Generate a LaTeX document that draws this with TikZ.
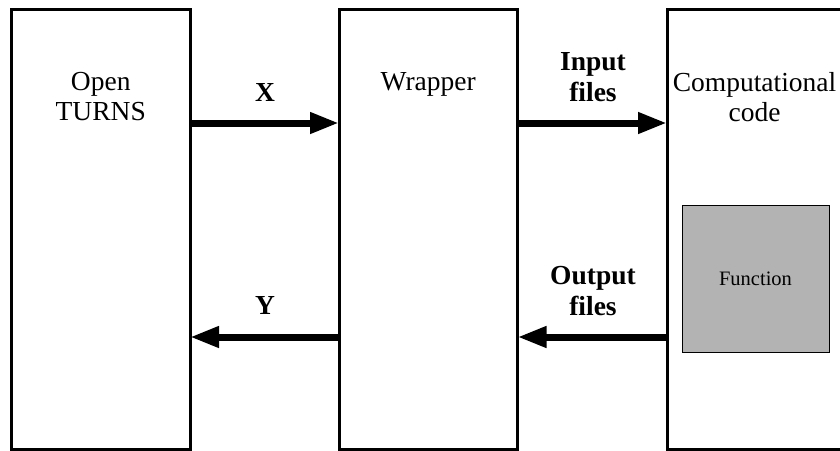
\documentclass[tikz,border=0pt]{standalone}
\usepackage{fontspec}
\setmainfont{Liberation Serif}
\usetikzlibrary{arrows.meta}
\definecolor{fgray}{HTML}{B3B3B3}
\begin{document}
\begin{tikzpicture}[x=1pt,y=-1pt,
  box/.style={draw, line width=3pt, minimum width=178.5pt, minimum height=439.5pt, inner sep=0pt},
  boxtext/.style={anchor=north, inner sep=0pt, align=center, font=\fontsize{27.5}{29.5}\selectfont},
  lbl/.style={inner sep=0pt, align=center, font=\fontsize{27.5}{31}\selectfont\bfseries},
  arr/.style={line width=7pt, -{Triangle[length=29pt,width=20pt]}},
  fbox/.style={draw, line width=1pt, fill=fgray, minimum width=147pt, minimum height=147pt, inner sep=0pt, font=\fontsize{20.5}{24}\selectfont}]
\useasboundingbox (0,0) rectangle (840,450);
\clip (0,0) rectangle (840,450);
\node[box] (ot) at (100.75,229.25) {};
\node[box] (wr) at (428.25,229.25) {};
\node[box] (cc) at (756.25,229.25) {};
\node[boxtext] (ott) at (100.75,72.5) {Open\\TURNS};
\node[boxtext] (wrt) at (428.25,72.5) {Wrapper};
\node[boxtext] (cct) at (754.5,72.5) {Computational\\code};
\node[fbox] (fn) at (755.5,278.5) {Function};
\draw[arr] (ot.east |- 0,123) -- ([xshift=1.5pt]wr.west |- 0,123);
\draw[arr] (wr.east |- 0,123) -- ([xshift=1.5pt]cc.west |- 0,123);
\draw[arr] (cc.west |- 0,337) -- ([xshift=-1.5pt]wr.east |- 0,337);
\draw[arr] (wr.west |- 0,337) -- ([xshift=-1.5pt]ot.east |- 0,337);
\node[lbl, anchor=base] (lx) at (265,101.5) {X};
\node[lbl, anchor=base] (ly) at (265,314) {Y};
\node[lbl, anchor=north] (li) at (593,52) {Input\\files};
\node[lbl, anchor=north] (lo) at (593,266) {Output\\files};
\end{tikzpicture}
\end{document}
